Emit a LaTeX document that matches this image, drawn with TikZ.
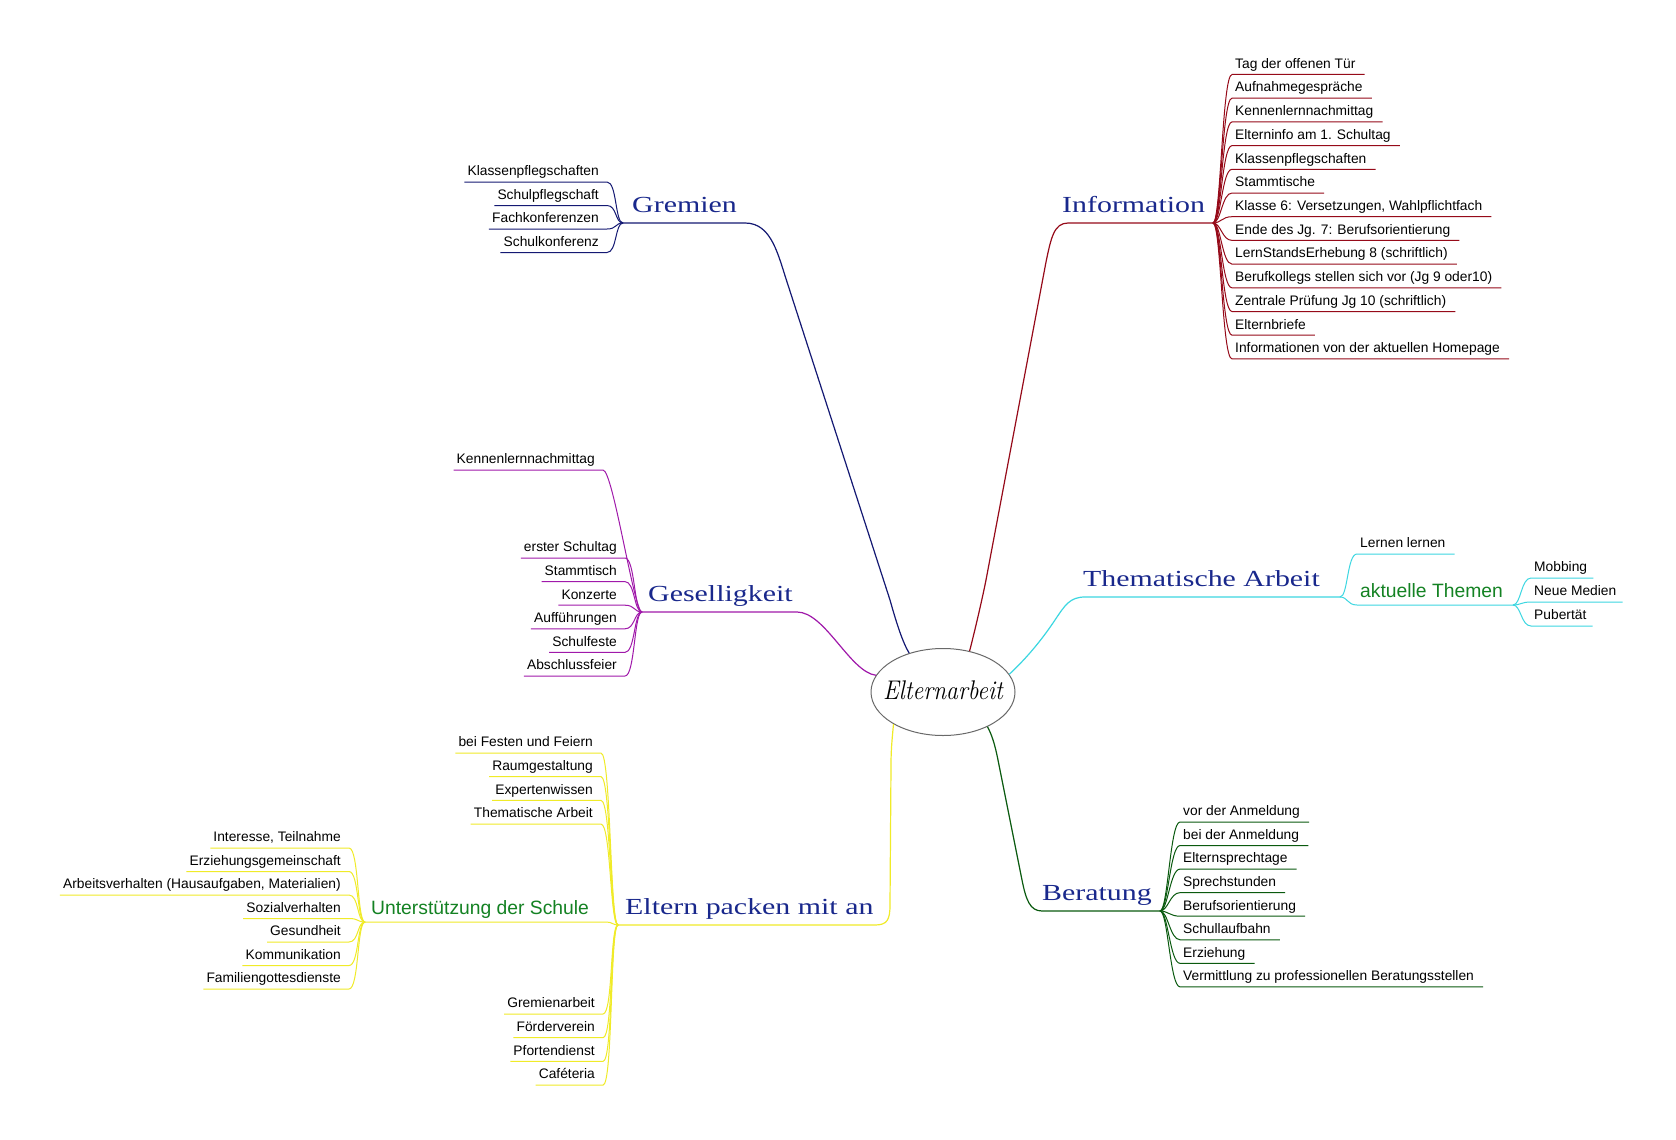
\documentclass[tikz,border=0pt]{standalone}
\usepackage{fontspec}
\usepackage{graphicx}
\usetikzlibrary{shapes.geometric}
\newfontfamily\itemfont{Liberation Sans}
\newfontfamily\labfont{Liberation Serif}
\newcommand\widelab[1]{\scalebox{1.3}[1]{#1}}
\definecolor{cNavy}{RGB}{20,25,115}
\definecolor{cLab}{RGB}{25,40,140}
\definecolor{cRed}{RGB}{150,10,25}
\definecolor{cCyan}{RGB}{60,215,225}
\definecolor{cDGreen}{RGB}{10,90,15}
\definecolor{cYellow}{RGB}{240,235,40}
\definecolor{cPurple}{RGB}{160,25,170}
\definecolor{cGreenT}{RGB}{20,130,35}
\definecolor{cGray}{RGB}{105,105,105}
\begin{document}
\begin{tikzpicture}[x=1pt,y=-1pt,
  item/.style={font=\itemfont\fontsize{13.8}{16}\selectfont, inner sep=0pt, text height=10pt, text depth=6pt},
  subitem/.style={font=\itemfont\fontsize{19.3}{22}\selectfont, text=cGreenT, inner sep=0pt, text height=14pt, text depth=7pt},
  mainlab/.style={font=\labfont\fontsize{23}{26}\selectfont, text=cLab, inner sep=0pt, text height=16pt, text depth=10pt},
  kid/.style={line width=1pt},
  branch/.style={line width=1.2pt}]
\fill[white] (0,0) rectangle (1676,1140);
\useasboundingbox (0,0) rectangle (1676,1140);

% centre
\node[ellipse, draw=cGray, line width=1pt, minimum width=144pt, minimum height=87pt, inner sep=0pt] (E) at (943,692) {};
\node[font=\fontsize{27}{30}\selectfont\itshape, inner sep=0pt] (Etxt) at ([yshift=2pt]E.center) {\scalebox{0.88}[1]{Elternarbeit}};

% main labels
\node[mainlab, anchor=south west] (gre) at (632,223) {\widelab{Gremien}};
\node[mainlab, anchor=south west] (inf) at (1062,223) {\widelab{Information}};
\node[mainlab, anchor=south west] (them) at (1083,597) {\widelab{Thematische Arbeit}};
\node[mainlab, anchor=south west] (ber) at (1042,911) {\widelab{Beratung}};
\node[mainlab, anchor=south west] (elt) at (625,925) {\widelab{Eltern packen mit an}};
\node[mainlab, anchor=south west] (ges) at (648,612) {\widelab{Geselligkeit}};

% junctions
\coordinate (Gj) at (623,223);
\coordinate (Ij) at (1213,223);
\coordinate (Tj) at (1340,597);
\coordinate (Aj) at (1513,605);
\coordinate (Bj) at (1160,911);
\coordinate (Ej) at (618,925);
\coordinate (Uj) at (365,922);
\coordinate (Sj) at (642,612);

% main branches
\draw[branch,cNavy] (E.131) .. controls (903,643) and (897,625) .. (890,600) -- (788,285)
   .. controls (778,255) and (772,223) .. (745,223) -- (Gj);
\draw[branch,cRed] (E.57) .. controls (975,630) and (982,600) .. (986,580) -- (1046,262)
   .. controls (1051,238) and (1054,223) .. (1068,223) -- (Ij);
\draw[branch,cCyan] (E.15) .. controls (1030,655) and (1045,635) .. (1055,620)
   .. controls (1065,605) and (1070,597) .. (1085,597) -- (Tj);
\draw[branch,cDGreen] (E.-38) .. controls (992,735) and (995,745) .. (998,760) -- (1022,880)
   .. controls (1026,900) and (1030,911) .. (1042,911) -- (Bj);
\draw[branch,cYellow] (E.213) .. controls (892,740) and (891,750) .. (891,765) -- (890,905)
   .. controls (890,920) and (887,925) .. (875,925) -- (Ej);
\draw[branch,cPurple] (E.166) .. controls (850,672) and (825,612) .. (797,612) -- (Sj);

% Gremien
\foreach \txt [count=\i from 0] in {Klassenpflegschaften,
  Schulpflegschaft,
  Fachkonferenzen,
  Schulkonferenz}{
  \node[item, anchor=south east] (gk\i) at (599,182+23.5*\i) {\txt};
  \draw[kid,cNavy] (Gj) .. controls +(-8,0) and +(10,0) .. ([xshift=8pt]gk\i.south east) -- ([xshift=-3pt]gk\i.south west);
}

% Information
\foreach \txt [count=\i from 0] in {Tag der offenen Tür,
  Aufnahmegespräche,
  Kennenlernnachmittag,
  Elterninfo am 1. Schultag,
  Klassenpflegschaften,
  Stammtische,
  {Klasse 6: Versetzungen, Wahlpflichtfach},
  Ende des Jg. 7: Berufsorientierung,
  LernStandsErhebung 8 (schriftlich),
  Berufkollegs stellen sich vor (Jg 9 oder10),
  Zentrale Prüfung Jg 10 (schriftlich),
  Elternbriefe,
  Informationen von der aktuellen Homepage}{
  \node[item, anchor=south west] (ik\i) at (1235,74.5+23.7*\i) {\txt};
  \draw[kid,cRed] (Ij) .. controls +(8,0) and +(-10,0) .. ([xshift=-3pt]ik\i.south west) -- ([xshift=9pt]ik\i.south east);
}

% Thematische Arbeit
\node[item, anchor=south west] (ll) at (1360,554) {Lernen lernen};
\draw[kid,cCyan] (Tj) .. controls +(8,0) and +(-10,0) .. ([xshift=-3pt]ll.south west) -- ([xshift=9pt]ll.south east);
\node[subitem, anchor=south west] (akt) at (1360,605) {aktuelle Themen};
\draw[kid,cCyan] (Tj) .. controls +(8,0) and +(-10,0) .. ([xshift=-3pt]akt.south west) -- (Aj);
\foreach \txt/\yy [count=\i] in {Mobbing/578, Neue Medien/602, Pubertät/626}{
  \node[item, anchor=south west] (ak\i) at (1534,\yy) {\txt};
  \draw[kid,cCyan] (Aj) .. controls +(8,0) and +(-10,0) .. ([xshift=-3pt]ak\i.south west) -- ([xshift=6pt]ak\i.south east);
}

% Beratung
\foreach \txt [count=\i from 0] in {vor der Anmeldung,
  bei der Anmeldung,
  Elternsprechtage,
  Sprechstunden,
  Berufsorientierung,
  Schullaufbahn,
  Erziehung,
  Vermittlung zu professionellen Beratungsstellen}{
  \node[item, anchor=south west] (bk\i) at (1183,822+23.55*\i) {\txt};
  \draw[kid,cDGreen] (Bj) .. controls +(8,0) and +(-10,0) .. ([xshift=-3pt]bk\i.south west) -- ([xshift=9pt]bk\i.south east);
}

% Geselligkeit
\node[item, anchor=south east] (sk0) at (595,470) {Kennenlernnachmittag};
\draw[kid,cPurple] (Sj) .. controls +(-8,0) and +(10,0) .. ([xshift=8pt]sk0.south east) -- ([xshift=-3pt]sk0.south west);
\foreach \txt [count=\i] in {erster Schultag,
  Stammtisch,
  Konzerte,
  Aufführungen,
  Schulfeste,
  Abschlussfeier}{
  \node[item, anchor=south east] (sk\i) at (617,534.4+23.6*\i) {\txt};
  \draw[kid,cPurple] (Sj) .. controls +(-8,0) and +(10,0) .. ([xshift=8pt]sk\i.south east) -- ([xshift=-3pt]sk\i.south west);
}

% Eltern packen mit an
\foreach \txt [count=\i from 0] in {bei Festen und Feiern,
  Raumgestaltung,
  Expertenwissen,
  Thematische Arbeit}{
  \node[item, anchor=south east] (eu\i) at (593,753+23.7*\i) {\txt};
  \draw[kid,cYellow] (Ej) .. controls +(-8,0) and +(10,0) .. ([xshift=8pt]eu\i.south east) -- ([xshift=-3pt]eu\i.south west);
}
\foreach \txt [count=\i from 0] in {Gremienarbeit,
  Förderverein,
  Pfortendienst,
  Caféteria}{
  \node[item, anchor=south east] (el\i) at (595,1014+23.7*\i) {\txt};
  \draw[kid,cYellow] (Ej) .. controls +(-8,0) and +(10,0) .. ([xshift=8pt]el\i.south east) -- ([xshift=-3pt]el\i.south west);
}
\node[subitem, anchor=south west] (unt) at (371,922) {Unterstützung der Schule};
\draw[kid,cYellow] (Ej) .. controls +(-5,0) and +(6,0) .. ([xshift=17pt]unt.south east) -- (Uj);
\foreach \txt [count=\i from 0] in {{Interesse, Teilnahme},
  Erziehungsgemeinschaft,
  {Arbeitsverhalten (Hausaufgaben, Materialien)},
  Sozialverhalten,
  Gesundheit,
  Kommunikation,
  Familiengottesdienste}{
  \node[item, anchor=south east] (uk\i) at (341,848+23.5*\i) {\txt};
  \draw[kid,cYellow] (Uj) .. controls +(-8,0) and +(10,0) .. ([xshift=8pt]uk\i.south east) -- ([xshift=-3pt]uk\i.south west);
}
\end{tikzpicture}
\end{document}
